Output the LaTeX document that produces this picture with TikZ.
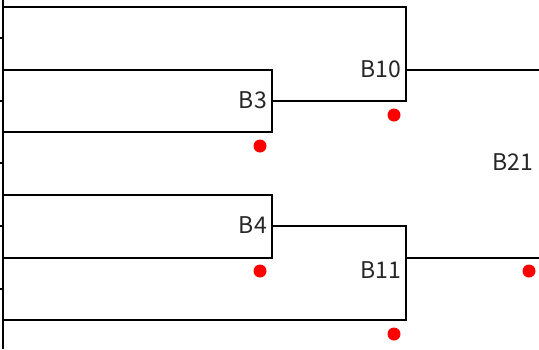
\documentclass[tikz,border=0pt]{standalone}
\usepackage{fontspec}
\setmainfont{Noto Sans CJK JP}
\begin{document}
\begin{tikzpicture}[x=1pt,y=-1pt,
  wire/.style={line width=2pt,line cap=rect},
  lbl/.style={font=\fontsize{23}{23}\selectfont,text=black!85,inner sep=0pt},
  dot/.style={circle,fill=red,inner sep=0pt,minimum size=13pt}]
\useasboundingbox (0,0) rectangle (539,349);
% left rail
\coordinate (railT) at (3,0);
\coordinate (railB) at (3,349);
\draw[line width=2pt] (railT) -- (railB);
\foreach \y in {38,101,163,226,289}{\draw[line width=2pt] (0,\y) -- (3,\y);}
% leaf lines
\coordinate (l1) at (3,7);
\coordinate (l2) at (3,70);
\coordinate (l3) at (3,132);
\coordinate (l4) at (3,195);
\coordinate (l5) at (3,258);
\coordinate (l6) at (3,320);
% junctions
\coordinate (j3) at (272,101);
\coordinate (j4) at (272,226);
\coordinate (j10) at (406,70);
\coordinate (j11) at (406,258);
\coordinate (e10) at (539,70);
\coordinate (e11) at (539,258);
% B3
\draw[wire] (l2) -| (j3) |- (l3);
% B4
\draw[wire] (l4) -| (j4) |- (l5);
% B10
\draw[wire] (l1) -| (j10) |- (j3);
\draw[wire] (j10) -- (e10);
% B11
\draw[wire] (j4) -| (j11) |- (l6);
\draw[wire] (j11) -- (e11);
% labels
\node[lbl,anchor=east] (B3) at (267,100) {B3};
\node[lbl,anchor=east] (B4) at (267,225) {B4};
\node[lbl,anchor=east] (B10) at (401,69) {B10};
\node[lbl,anchor=east] (B11) at (401,270) {B11};
\node[lbl] (B21) at (513,162) {B21};
% dots
\node[dot] (d3) at (260,146) {};
\node[dot] (d10) at (394,115) {};
\node[dot] (d4) at (260,271) {};
\node[dot] (d11) at (394,334) {};
\node[dot] (d21) at (529,271) {};
\end{tikzpicture}
\end{document}
